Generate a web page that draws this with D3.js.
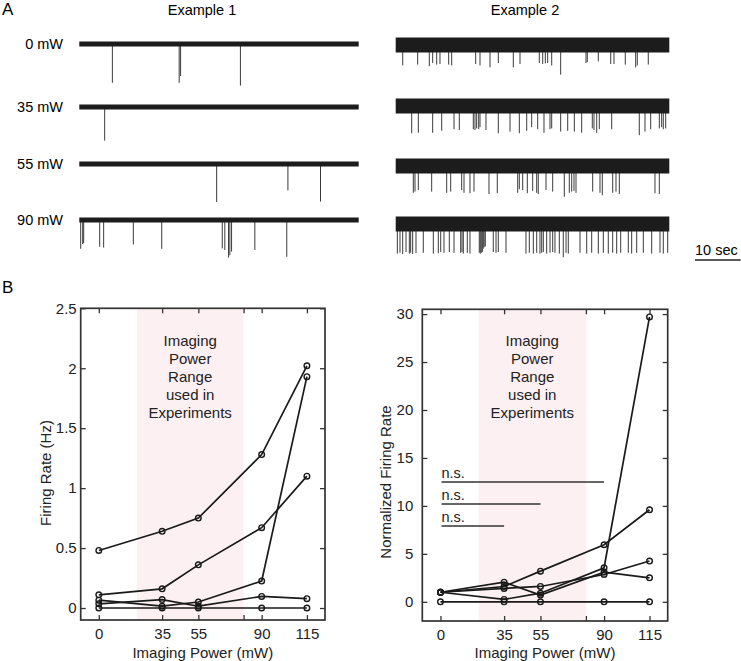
<!DOCTYPE html>
<html>
<head>
<meta charset="utf-8">
<script src="https://cdn.jsdelivr.net/npm/d3@7"></script>
<style>
  body { margin: 0; background: #fff; }
  svg { font-family: "Liberation Sans", Arial, sans-serif; }
</style>
</head>
<body>
<svg id="fig" width="741" height="661"></svg>
<script>
// ---- panel A data: spike times (s) and amplitudes (a.u.) ----
const powerLabels = ["0 mW", "35 mW", "55 mW", "90 mW"];

const ex1Spikes0 = [[7.1, 0.97], [21.45, 0.97], [21.75, 0.8], [34.6, 1.04]];
const ex1Spikes35 = [[5.45, 0.84]];
const ex1Spikes55 = [[29.5, 0.95], [44.8, 0.66], [51.8, 0.94]];
const ex1Spikes90 = [[0.3, 0.72], [0.73, 0.6], [0.94, 0.58], [4.38, 0.67], [5.23, 0.69], [11.6, 0.61],
  [17.7, 0.72], [30.7, 0.71], [31.25, 0.75], [32.05, 0.94], [32.33, 0.88], [32.7, 0.79], [37.7, 0.75], [44.55, 0.92]];

const ex2Spikes0 = [[1.54, 0.51], [4.82, 0.49], [7.37, 0.53], [8.11, 0.45], [8.99, 0.49], [9.71, 0.475],
  [11.62, 0.49], [12.28, 0.51], [17.54, 0.475], [18.49, 0.51], [20.68, 0.56], [22.5, 0.45], [25.79, 0.56],
  [27.26, 0.475], [31.49, 0.45], [32.24, 0.475], [32.81, 0.46], [33.33, 0.45], [34.21, 0.51], [36.18, 0.74],
  [41.73, 0.45], [42.02, 0.43], [44.43, 0.41], [47.15, 0.475], [47.87, 0.475], [50.35, 0.49], [52.63, 0.56],
  [52.98, 0.51], [55.39, 0.49]];
const ex2Spikes35 = [[3.51, 0.68], [4.96, 0.67], [8.11, 0.67], [10.09, 0.62], [12.79, 0.58], [13.95, 0.6],
  [17.02, 0.58], [17.39, 0.6], [17.76, 0.56], [18.2, 0.58], [18.49, 0.53], [19.8, 0.6], [22.5, 0.68],
  [25.07, 0.64], [27.11, 0.68], [28.73, 0.62], [29.82, 0.53], [31.14, 0.58], [32.52, 0.67], [33.84, 0.58],
  [34.21, 0.56], [36.18, 0.64], [37.72, 0.62], [39.17, 0.64], [40.79, 0.67], [43.11, 0.56], [43.49, 0.6],
  [44.08, 0.67], [44.65, 0.58], [47.37, 0.58], [53.42, 0.73], [54.67, 0.64], [55.92, 0.58], [57.81, 0.56],
  [58.33, 0.53], [58.68, 0.58], [59.21, 0.56]];
const ex2Spikes55 = [[3.86, 0.67], [4.23, 0.64], [4.96, 0.6], [7.89, 0.64], [11.18, 0.67], [12.06, 0.64],
  [14.47, 0.6], [14.98, 0.67], [16.29, 0.68], [17.17, 0.64], [20.46, 0.7], [22.28, 0.68], [26.75, 0.67],
  [27.11, 0.58], [27.85, 0.6], [28.86, 0.68], [30.04, 0.62], [30.92, 0.67], [31.27, 0.7], [32.96, 0.6],
  [34.43, 0.64], [36.97, 0.77], [38.07, 0.67], [38.6, 0.64], [39.1, 0.62], [39.54, 0.67], [43.2, 0.64],
  [44.8, 0.67], [45.31, 0.73], [47.59, 0.67], [48.31, 0.64], [49.04, 0.7], [56.86, 0.68], [57.81, 0.7]];
const ex2Spikes90 = [[0.36, 0.74], [0.94, 0.72], [1.53, 0.75], [2.26, 0.7], [2.99, 0.74], [3.28, 0.72],
  [3.72, 0.75], [4.45, 0.73], [6.05, 0.72], [8.25, 0.74], [9.34, 0.73], [9.87, 0.7], [10.59, 0.72],
  [11.76, 0.7], [12.79, 0.72], [14.25, 0.72], [14.54, 0.7], [14.83, 0.74], [15.7, 0.72], [16.29, 0.74],
  [18.33, 0.72], [18.55, 0.74], [18.77, 0.72], [19.0, 0.7], [19.2, 0.62], [19.4, 0.58], [19.65, 0.56],
  [21.4, 0.7], [22.0, 0.72], [22.5, 0.7], [24.19, 0.72], [28.57, 0.74], [29.3, 0.72], [30.18, 0.74],
  [30.92, 0.72], [31.64, 0.74], [32.02, 0.72], [32.37, 0.7], [33.11, 0.74], [33.84, 0.72], [34.43, 0.7],
  [34.93, 0.72], [35.88, 0.74], [36.75, 0.83], [37.35, 0.72], [37.85, 0.74], [40.42, 0.72], [41.89, 0.74],
  [42.98, 0.72], [44.43, 0.74], [45.53, 0.72], [46.62, 0.74], [47.59, 0.72], [48.46, 0.74], [49.34, 0.72],
  [51.01, 0.72], [51.75, 0.74], [52.85, 0.72], [54.3, 0.72], [56.14, 0.74], [57.96, 0.72], [58.68, 0.74],
  [59.65, 0.72]];

const ex1Rows = [ex1Spikes0, ex1Spikes35, ex1Spikes55, ex1Spikes90];
const ex2Rows = [ex2Spikes0, ex2Spikes35, ex2Spikes55, ex2Spikes90];
const ex1Noise = 0.06;  // half width of noise band, a.u.
const ex2Noise = 0.19;

// ---- panel B data ----
const powers = [0, 35, 55, 90, 115];
const rateA = [0.48, 0.64, 0.75, 1.28, 2.02];
const rateB = [0.11, 0.16, 0.36, 0.67, 1.10];
const rateC = [0.065, 0.015, 0.05, 0.225, 1.93];
const rateD = [0.035, 0.07, 0.015, 0.097, 0.078];
const rateE = [0, 0, 0, 0, 0];

const normA = [1, 1.4, 1.6, 2.85, 4.25];
const normB = [1, 1.6, 3.2, 5.95, 9.6];
const normC = [1, 0.25, 0.9, 3.55, 29.7];
const normD = [1, 2.05, 0.7, 3.1, 2.5];
const normE = [0, 0, 0, 0, 0];

const usedRange = [21, 80];          // shaded imaging power range (mW)
const xTicks = [0, 35, 55, 80, 90, 115];
const xTickLabels = ["0", "35", "55", "", "90", "115"];
const rateTicks = [0, 0.5, 1, 1.5, 2, 2.5];
const rateTickLabels = ["0", "0.5", "1", "1.5", "2", "2.5"];
const normTicks = [0, 5, 10, 15, 20, 25, 30];

const nsLevels = [12.5, 10.2, 7.9];
const nsEnds = [90, 55, 35];

const svg = d3.select("#fig");
const ink = "#222";

// ================= Panel A =================
svg.append("text").attr("x", 2).attr("y", 15).attr("font-size", 17).text("A");
svg.append("text").attr("x", 202).attr("y", 15).attr("text-anchor", "middle").attr("font-size", 14.5).text("Example 1");
svg.append("text").attr("x", 525).attr("y", 15).attr("text-anchor", "middle").attr("font-size", 14.5).text("Example 2");

const t1 = d3.scaleLinear().domain([0, 60]).range([79.3, 358.7]);
const t2 = d3.scaleLinear().domain([0, 60]).range([395.7, 669.3]);
const amp = d3.scaleLinear().domain([0, 1]).range([0, 40]);
const ex1Y = [44, 107, 164, 220];
const ex2Y = [45, 106, 166, 224];

powerLabels.forEach((lab, i) => {
  svg.append("text").attr("x", 63).attr("y", ex1Y[i] + 5).attr("text-anchor", "end")
    .attr("font-size", 14.5).text(lab);
});

let drawTrace = (g, tScale, yc, spikes, noise) => {
  g.selectAll(".spike")
    .data(spikes)
    .enter()
    .append("line")
    .attr("class", "spike")
    .attr("x1", d => tScale(d[0])).attr("x2", d => tScale(d[0]))
    .attr("y1", yc).attr("y2", d => yc + amp(d[1]))
    .style("stroke", "#3a3a3a").style("stroke-width", 1);

  const band = d3.area()
    .x(d => tScale(d))
    .y0(yc - amp(noise))
    .y1(yc + amp(noise));
  g.append("path").datum(tScale.domain()).attr("d", band).style("fill", "#1c1c1c");
};

ex1Rows.forEach((sp, i) => drawTrace(svg.append("g"), t1, ex1Y[i], sp, ex1Noise));
ex2Rows.forEach((sp, i) => drawTrace(svg.append("g"), t2, ex2Y[i], sp, ex2Noise));

// scale bar: 10 sec
const barX = 695;
const barLen = t2(10) - t2(0);
svg.append("line").attr("x1", barX).attr("x2", barX + barLen).attr("y1", 260).attr("y2", 260)
  .style("stroke", ink).style("stroke-width", 1.3);
svg.append("text").attr("x", barX).attr("y", 255).attr("font-size", 14.5).text("10 sec");

// ================= Panel B =================
svg.append("text").attr("x", 2).attr("y", 293).attr("font-size", 17).text("B");

let drawPanel = (opt) => {
  const g = svg.append("g");
  const x = d3.scaleLinear().domain([-10, 125]).range([opt.left, opt.right]);
  const y = d3.scaleLinear().domain(opt.yDomain).range([opt.bottom, opt.top]);

  // shaded range
  g.append("rect")
    .attr("x", x(usedRange[0])).attr("width", x(usedRange[1]) - x(usedRange[0]))
    .attr("y", opt.top).attr("height", opt.bottom - opt.top)
    .style("fill", "#fdf0f2");

  // shaded range caption
  const cap = ["Imaging", "Power", "Range", "used in", "Experiments"];
  g.selectAll(".cap").data(cap).enter().append("text")
    .attr("x", x((usedRange[0] + usedRange[1]) / 2))
    .attr("y", (d, i) => 346 + i * 17.9)
    .attr("text-anchor", "middle").attr("font-size", 15).attr("fill", "#222")
    .text(d => d);

  // axes, ticks inward on all sides
  const fmtX = (d, i) => xTickLabels[i];
  const bottom = g.append("g").attr("transform", `translate(0,${opt.bottom})`)
    .call(d3.axisBottom(x).tickValues(xTicks).tickFormat(fmtX).tickSize(-5).tickPadding(8));
  const top = g.append("g").attr("transform", `translate(0,${opt.top})`)
    .call(d3.axisTop(x).tickValues(xTicks).tickFormat("").tickSize(-5));
  const left = g.append("g").attr("transform", `translate(${opt.left},0)`)
    .call(d3.axisLeft(y).tickValues(opt.yTicks).tickFormat((d, i) => opt.yLabels[i]).tickSize(-5).tickPadding(opt.yPad));
  const right = g.append("g").attr("transform", `translate(${opt.right},0)`)
    .call(d3.axisRight(y).tickValues(opt.yTicks).tickFormat("").tickSize(-5));
  [bottom, top, left, right].forEach(a => {
    a.select(".domain").remove();
    a.selectAll("line").style("stroke", "#333").style("stroke-width", 1.3);
    a.selectAll("text").attr("font-size", 15).attr("fill", "#222")
      .style("font-family", "'Liberation Sans', Arial, sans-serif");
  });

  g.append("rect")
    .attr("x", opt.left).attr("y", opt.top)
    .attr("width", opt.right - opt.left).attr("height", opt.bottom - opt.top)
    .style("fill", "none").style("stroke", "#333").style("stroke-width", 1.7);

  // axis labels
  g.append("text").attr("x", x(57.5)).attr("y", 658).attr("text-anchor", "middle")
    .attr("font-size", 15).attr("fill", "#222").text("Imaging Power (mW)");
  g.append("text").attr("transform", `translate(${opt.yLabelX},${opt.yLabelY}) rotate(-90)`)
    .attr("text-anchor", "middle").attr("font-size", 15).attr("fill", "#222").text(opt.yTitle);

  // n.s. bars
  if (opt.ns) {
    opt.ns.levels.forEach((lv, i) => {
      g.append("line")
        .attr("x1", x(0) + 1).attr("x2", x(opt.ns.ends[i]))
        .attr("y1", y(lv)).attr("y2", y(lv))
        .style("stroke", "#333").style("stroke-width", 1.5);
      g.append("text").attr("x", x(0) + 1).attr("y", y(lv) - 4)
        .attr("font-size", 14.5).attr("fill", "#222").text("n.s.");
    });
  }

  // series
  const line = d3.line().x((d, i) => x(powers[i])).y(d => y(d));
  opt.series.forEach(s => {
    g.append("path").datum(s).attr("d", line)
      .style("fill", "none").style("stroke", "#1a1a1a").style("stroke-width", 1.7);
    g.selectAll(null).data(s).enter().append("circle")
      .attr("cx", (d, i) => x(powers[i])).attr("cy", d => y(d)).attr("r", 2.8)
      .style("fill", "none").style("stroke", "#1a1a1a").style("stroke-width", 1.4);
  });
};

drawPanel({
  left: 80.7, right: 325, top: 308.3, bottom: 620,
  yDomain: [-0.1, 2.5], yTicks: rateTicks, yLabels: rateTickLabels, yPad: 4,
  yTitle: "Firing Rate (Hz)", yLabelX: 51, yLabelY: 473,
  series: [rateA, rateB, rateC, rateD, rateE]
});

drawPanel({
  left: 422.3, right: 667.7, top: 309.3, bottom: 621,
  yDomain: [-2, 30.5], yTicks: normTicks, yLabels: normTicks.map(String), yPad: 9,
  yTitle: "Normalized Firing Rate", yLabelX: 391, yLabelY: 482,
  series: [normA, normB, normC, normD, normE],
  ns: { levels: nsLevels, ends: nsEnds }
});
</script>
</body>
</html>
